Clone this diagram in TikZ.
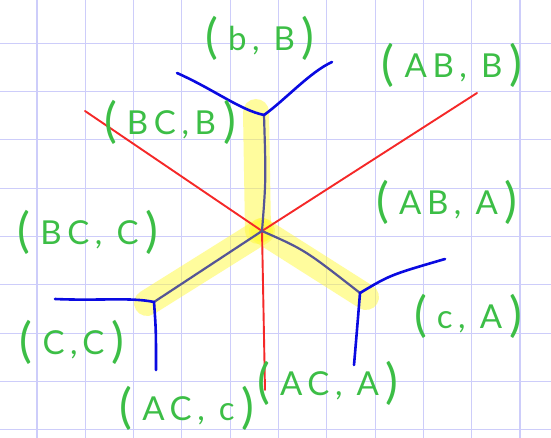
\documentclass[tikz,border=0pt]{standalone}
\usepackage{fontspec}
\setmainfont{Lato}
\definecolor{gridc}{RGB}{205,205,250}
\definecolor{penred}{RGB}{245,40,40}
\definecolor{penblue}{RGB}{10,10,225}
\definecolor{penslate}{RGB}{85,85,150}
\definecolor{pengreen}{RGB}{60,190,70}
\definecolor{hl}{RGB}{255,250,60}
\newcommand\plbl[1]{\raisebox{-3pt}{\fontsize{48}{48}\selectfont(}\hspace{10pt}{\fontsize{33}{33}\selectfont\addfontfeature{LetterSpace=17}#1}\hspace{7pt}\raisebox{-3pt}{\fontsize{48}{48}\selectfont)}}
\begin{document}
\begin{tikzpicture}[x=1pt,y=-1pt,
  gridline/.style={gridc,line width=1.1pt},
  redpen/.style={penred,line width=1.9pt,line cap=round,line join=round},
  bluepen/.style={penblue,line width=2.6pt,line cap=round,line join=round},
  slatepen/.style={penslate,line width=2.2pt,line cap=round,line join=round},
  highlight/.style={hl,opacity=0.5,line width=26pt,line cap=round,line join=round},
  lab/.style={text=pengreen,inner sep=0pt,anchor=center}]
\useasboundingbox (0,0) rectangle (551,438);
\fill[white] (0,0) rectangle (551,438);
% grid
\foreach \i in {0,...,10} {\draw[gridline] ({37+48.3*\i},0) -- ({37+48.3*\i},438);}
\foreach \j in {0,...,8} {\draw[gridline] (0,{43.3+48.3*\j}) -- (551,{43.3+48.3*\j});}
% key points
\coordinate (C) at (262,231);
\coordinate (T) at (264,115);
\coordinate (L) at (154,302);
\coordinate (R) at (360,293);
\coordinate (rUL) at (85,111);
\coordinate (rUR) at (477,93);
\coordinate (rD) at (265,390);
\coordinate (bTL) at (177,73);
\coordinate (bTR) at (332,62);
\coordinate (bLL) at (55,299);
\coordinate (bLD) at (156,370);
\coordinate (bRR) at (445,259);
\coordinate (bRD) at (354,365);
% highlight
\draw[highlight] (256,112) -- (258,231);
\draw[highlight] (C) -- (147,303);
\draw[highlight] (C) -- (366,297);
\fill[hl,opacity=0.6] (C) circle (11);
% red lines
\draw[redpen] (rUL) -- (C);
\draw[redpen] (C) -- (rUR);
\draw[redpen] (C) -- (rD);
% slate inner tree
\draw[slatepen] (C) .. controls (266,180) .. (T);
\draw[slatepen] (C) -- (L);
\draw[slatepen] (C) .. controls (305,250) .. (R);
% blue outer branches
\draw[bluepen] (bTL) .. controls (215,90) and (240,110) .. (T);
\draw[bluepen] (T) .. controls (285,100) and (310,72) .. (bTR);
\draw[bluepen] (bLL) .. controls (100,301) and (130,297) .. (L);
\draw[bluepen] (L) .. controls (156,330) .. (bLD);
\draw[bluepen] (R) .. controls (390,275) .. (bRR);
\draw[bluepen] (R) .. controls (357,330) .. (bRD);
% labels
\node[lab] (l1) at (260,38) {\plbl{b, B}};
\node[lab] (l2) at (452,65) {\plbl{AB, B}};
\node[lab] (l3) at (170,122) {\plbl{BC,B}};
\node[lab] (l4) at (447,202) {\plbl{AB, A}};
\node[lab] (l5) at (88,232) {\plbl{BC, C}};
\node[lab] (l6) at (72,342) {\plbl{C,C}};
\node[lab] (l7) at (468,316) {\plbl{c, A}};
\node[lab] (l8) at (187,408) {\plbl{AC, c}};
\node[lab] (l9) at (328,383) {\plbl{AC, A}};
\end{tikzpicture}
\end{document}
